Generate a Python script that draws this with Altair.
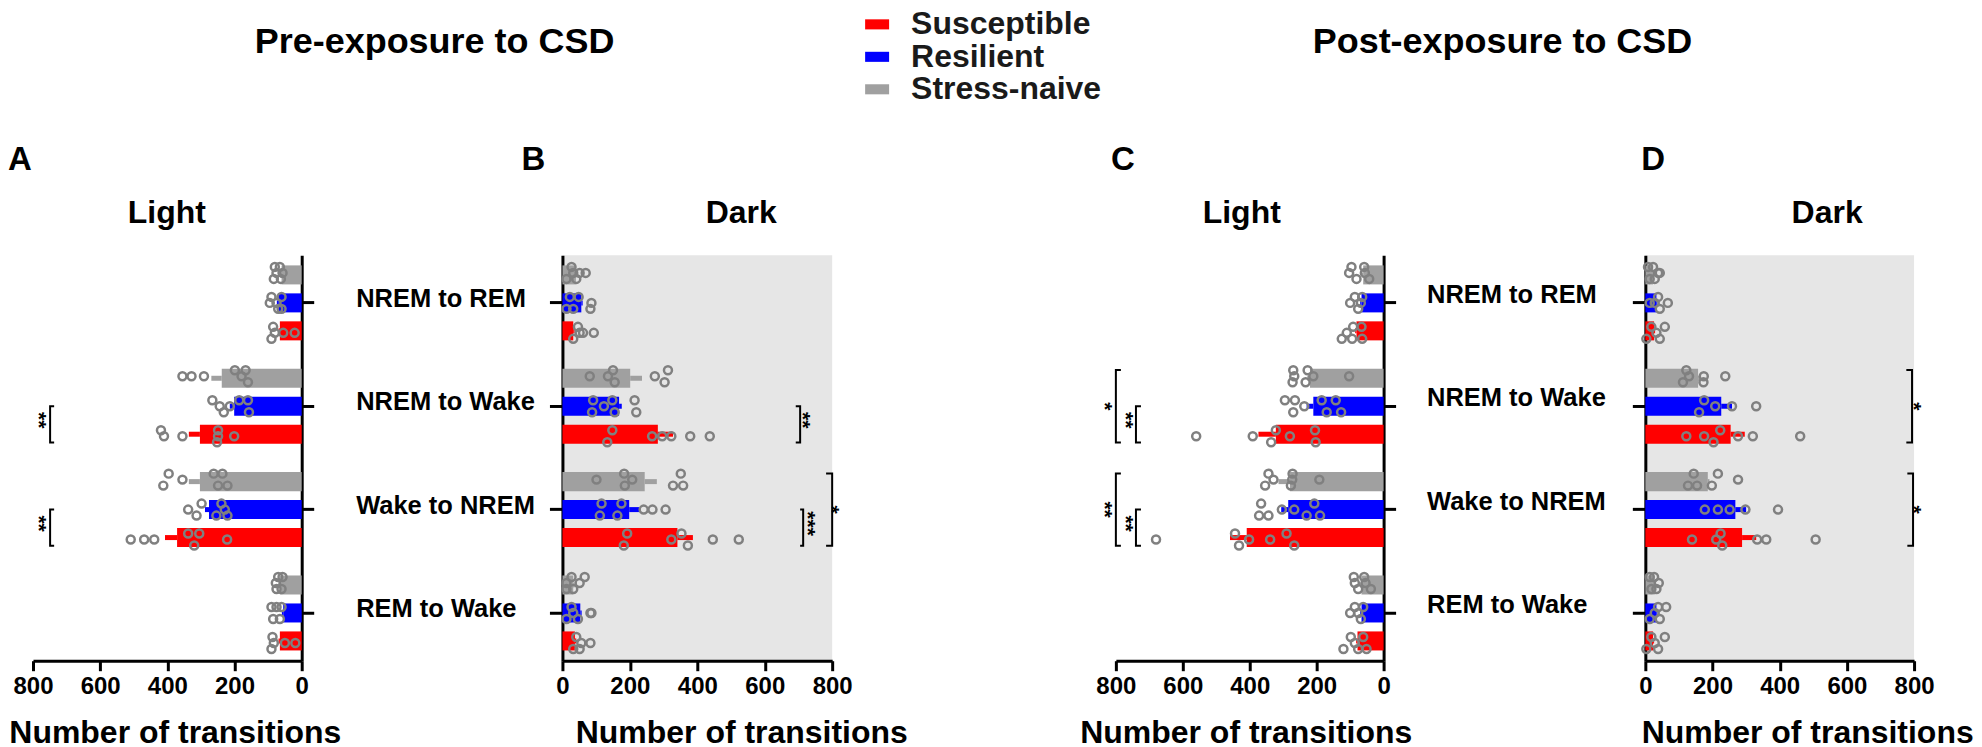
import altair as alt
import pandas as pd

FONT = "Liberation Sans"
CATEGORIES = ["NREM to REM", "NREM to Wake", "Wake to NREM", "REM to Wake"]
GROUPS = ["Stress-naive", "Resilient", "Susceptible"]          # top -> bottom inside a category
LEGEND_ORDER = ["Susceptible", "Resilient", "Stress-naive"]
LEGEND_COLORS = ["#ff0000", "#0000ff", "#a0a0a0"]
GROUP_COLOR = dict(zip(LEGEND_ORDER, LEGEND_COLORS))
X_TICKS = [0, 200, 400, 600, 800]
X_TITLE = "Number of transitions"
LETTERS = ["A", "B", "C", "D"]
PANEL_TITLES = ["Light", "Dark", "Light", "Dark"]
SECTION_TITLES = ["Pre-exposure to CSD", "Post-exposure to CSD"]
JITTER = [-2, -1, 0, 1, 2]

# ---------------- Panel A (pre, light) ----------------
A_MEAN = {"Stress-naive": [60, 238, 303, 65], "Resilient": [70, 201, 276, 55], "Susceptible": [65, 303, 371, 65]}
A_SEM = {"Stress-naive": [4, 31, 33, 4], "Resilient": [4, 13, 12, 4], "Susceptible": [4, 33, 36, 4]}
A_PTS = {
    "Stress-naive": [[(80, -1), (65, -1), (75, 0), (57, 0), (83, 1), (62, 1)],
                     [(355, 0), (328, 0), (291, 0), (199, -1), (167, -1), (160, 1), (179, 0)],
                     [(396, -1), (412, 1), (355, 0), (262, -1), (236, -1), (249, 1), (221, 1)],
                     [(70, -1), (57, -1), (77, 0), (60, 1), (75, 1)]],
    "Resilient": [[(90, -1), (75, 0), (60, -1), (60, 1), (95, 0), (70, 1)],
                  [(266, -1), (244, 0), (232, 1), (214, 0), (186, -1), (160, -1), (157, 1)],
                  [(338, 0), (313, 1), (298, -1), (254, 1), (239, -1), (229, 0), (221, 1)],
                  [(90, -1), (75, -1), (60, -1), (85, 1), (65, 1)]],
    "Susceptible": [[(85, -1), (80, 0), (90, 1), (55, 0), (21, 0)],
                    [(419, -1), (410, 0), (355, 0), (249, -1), (249, 0), (252, 1), (201, 0)],
                    [(509, 0), (469, 0), (439, 0), (338, -1), (305, -1), (320, 1), (222, 0)],
                    [(87, -1), (83, 0), (90, 1), (50, 0), (19, 0)]],
}
# (category, from group, to group, bracket x, tick end x, label, label x)
A_BRACKETS = [("NREM to Wake", "Resilient", "Susceptible", 749, 737, "**", 784),
              ("Wake to NREM", "Resilient", "Susceptible", 749, 737, "**", 784)]

# ---------------- Panel B (pre, dark) ----------------
B_MEAN = {"Stress-naive": [40, 201, 244, 32], "Resilient": [56, 168, 198, 53], "Susceptible": [32, 283, 341, 37]}
B_SEM = {"Stress-naive": [4, 35, 36, 4], "Resilient": [4, 8, 29, 4], "Susceptible": [4, 45, 46, 4]}
B_PTS = {
    "Stress-naive": [[(27, -1), (32, 0), (51, 0), (69, 0), (12, 1), (41, 1)],
                     [(81, 0), (135, 0), (150, -1), (155, 1), (274, 0), (303, 1), (313, -1)],
                     [(101, 0), (183, -1), (185, 1), (207, 0), (328, 1), (351, -1), (358, 1)],
                     [(27, -1), (12, 0), (51, 0), (66, -1), (32, 1), (12, 1)]],
    "Resilient": [[(22, -1), (48, -1), (86, 0), (83, 1), (12, 1), (32, 1)],
                  [(91, -1), (88, 1), (123, 0), (148, -1), (155, 1), (214, -1), (219, 1)],
                  [(116, -1), (111, 1), (175, -1), (163, 1), (241, 0), (267, 0), (306, 0)],
                  [(27, -1), (12, 1), (46, 1), (86, 0), (83, 0), (32, 0)]],
    "Susceptible": [[(46, -1), (51, 0), (61, 0), (93, 0), (32, 1)],
                    [(148, -1), (133, 1), (266, 0), (296, 0), (323, 0), (379, 0), (437, 0)],
                    [(192, -1), (182, 1), (323, 0), (353, -1), (372, 1), (446, 0), (523, 0)],
                    [(41, -1), (56, 0), (83, 0), (32, 1), (51, 1)]],
}
B_BRACKETS = [("NREM to Wake", "Resilient", "Susceptible", 705, 692, "**", 712),
              ("Wake to NREM", "Resilient", "Susceptible", 714, 705, "***", 724),
              ("Wake to NREM", "Stress-naive", "Susceptible", 800, 782, "*", 798)]

# ---------------- Panel C (post, light) ----------------
C_MEAN = {"Stress-naive": [61, 220, 280, 66], "Resilient": [66, 210, 285, 66], "Susceptible": [81, 322, 409, 78]}
C_SEM = {"Stress-naive": [4, 8, 34, 4], "Resilient": [4, 20, 21, 4], "Susceptible": [4, 52, 50, 4]}
C_PTS = {
    "Stress-naive": [[(96, -1), (58, -1), (103, 0), (81, 1), (56, 0), (43, 1)],
                     [(270, -1), (267, 0), (272, 1), (227, -1), (233, 1), (210, 0), (103, 0)],
                     [(344, -1), (329, 0), (354, 1), (272, -1), (277, 1), (273, 0), (192, 0)],
                     [(89, -1), (86, 0), (76, 1), (58, -1), (54, 0), (38, 1)]],
    "Resilient": [[(100, 0), (86, -1), (76, 1), (68, 0), (64, -1)],
                  [(295, -1), (265, -1), (270, 1), (237, 0), (185, -1), (143, -1), (170, 1), (127, 1)],
                  [(366, -1), (372, 1), (344, 1), (304, 0), (267, 0), (230, 1), (207, -1), (190, 1)],
                  [(100, 0), (86, -1), (76, 0), (68, 1), (61, -1)]],
    "Susceptible": [[(125, 1), (110, 0), (91, -1), (94, 1), (64, 1), (66, -1)],
                    [(560, 0), (391, 0), (336, 1), (322, -1), (280, 0), (205, -1), (203, 1)],
                    [(680, 0), (444, -1), (432, 1), (402, 0), (339, 0), (290, -1), (267, 1)],
                    [(120, 1), (98, -1), (86, 0), (76, 1), (61, -1), (51, 1)]],
}
C_BRACKETS = [("NREM to Wake", "Stress-naive", "Susceptible", 800, 785, "*", 835),
              ("NREM to Wake", "Resilient", "Susceptible", 740, 725, "**", 772),
              ("Wake to NREM", "Stress-naive", "Susceptible", 800, 785, "**", 835),
              ("Wake to NREM", "Resilient", "Susceptible", 740, 725, "**", 772)]

# ---------------- Panel D (post, dark) ----------------
D_MEAN = {"Stress-naive": [23, 157, 186, 28], "Resilient": [33, 226, 268, 33], "Susceptible": [26, 254, 288, 23]}
D_SEM = {"Stress-naive": [3, 5, 5, 3], "Resilient": [3, 32, 32, 3], "Susceptible": [3, 42, 42, 3]}
D_PTS = {
    "Stress-naive": [[(8, -1), (23, -1), (38, 0), (43, 0), (13, 1), (28, 1)],
                     [(122, -1), (130, 0), (112, 1), (174, 0), (173, 1), (238, 0)],
                     [(144, -1), (127, 1), (154, 1), (198, 1), (216, -1), (276, 0)],
                     [(13, -1), (26, -1), (40, 0), (18, 1), (33, 1)]],
    "Resilient": [[(13, 0), (38, -1), (67, 0), (43, 1), (28, 0)],
                  [(175, -1), (160, 1), (208, 0), (258, 0), (330, 0)],
                  [(177, 0), (216, 0), (251, 0), (298, 0), (395, 0)],
                  [(13, 1), (38, -1), (62, -1), (43, 1), (28, 0)]],
    "Susceptible": [[(3, 1), (18, -1), (58, -1), (43, 1), (33, 0)],
                    [(122, 0), (175, 0), (203, 1), (223, -1), (276, 0), (320, 0), (461, 0)],
                    [(139, 0), (211, 0), (224, -1), (229, 1), (333, 0), (360, 0), (507, 0)],
                    [(3, 1), (18, -1), (58, -1), (38, 1), (28, 0)]],
}
D_BRACKETS = [("NREM to Wake", "Stress-naive", "Susceptible", 794, 777, "*", 798),
              ("Wake to NREM", "Stress-naive", "Susceptible", 797, 780, "*", 798)]

PANEL_H = 406
GAPS = [261, 284, 262]          # horizontal gaps between the four plot areas
JLEVELS = [f"{g}|{j}" for g in GROUPS for j in JITTER]

LEGEND = alt.Legend(orient="none", legendX=829, legendY=-247, title=None,
                    symbolType="M-1,-0.42H1V0.42H-1Z", symbolSize=576, symbolStrokeWidth=0,
                    symbolOpacity=1, labelFontSize=32, labelFontWeight="bold", labelFont=FONT,
                    labelColor="#1a1a1a", labelOffset=18, rowPadding=0.5, padding=0, labelLimit=500)


def text_layer(txt, px, py, size, align="center"):
    return alt.Chart(pd.DataFrame({"t": [txt]})).mark_text(
        fontSize=size, fontWeight="bold", align=align, baseline="alphabetic", color="black", font=FONT
    ).encode(text="t:N", x=alt.value(px), y=alt.value(py))


def make_panel(mean, sem, pts, brackets, reverse, width, yaxis, axis_title_x, title_x, bg, letter,
               letter_x, panel_title, section=None, with_legend=False):
    bars_df = pd.DataFrame([{"cat": c, "grp": g, "x": mean[g][i], "x2": mean[g][i] + sem[g][i],
                             "col": GROUP_COLOR[g]}
                            for g in GROUPS for i, c in enumerate(CATEGORIES)])
    pts_df = pd.DataFrame([{"cat": c, "jg": f"{g}|{j}", "x": v}
                           for g in GROUPS for i, c in enumerate(CATEGORIES) for (v, j) in pts[g][i]])
    line_rows, mid_rows, low_rows = [], [], []
    for k, (cat, g_from, g_to, x_line, x_tick, lab, x_lab) in enumerate(brackets):
        for s, (xx, gg) in enumerate([(x_tick, g_from), (x_line, g_from), (x_line, g_to), (x_tick, g_to)]):
            line_rows.append({"bid": k, "seq": s, "cat": cat, "grp": gg, "x": xx})
        row = {"cat": cat, "grp": "Resilient", "x": x_lab, "t": lab}
        (mid_rows if g_from == "Stress-naive" else low_rows).append(row)

    xaxis = alt.Axis(values=X_TICKS, title=X_TITLE, titleFontSize=32, titleFontWeight="bold",
                     titleFont=FONT, titleX=axis_title_x, titleY=82, titleBaseline="alphabetic",
                     titleAlign="center", labelFontSize=24, labelFontWeight="bold", labelFont=FONT,
                     labelPadding=4, tickSize=10, tickWidth=3, domainWidth=3, labelFlush=False,
                     labelOverlap=False, grid=False, format="d")
    X = alt.X("x:Q", scale=alt.Scale(domain=[0, 800], reverse=reverse, nice=False, zero=False), axis=xaxis)
    Y = alt.Y("cat:N", scale=alt.Scale(domain=CATEGORIES, paddingInner=0.188, paddingOuter=0.056), axis=yaxis)
    YOFF = alt.YOffset("grp:N", scale=alt.Scale(domain=GROUPS, paddingInner=0.32, paddingOuter=0.16))
    YOFF_P = alt.YOffset("jg:N", scale=alt.Scale(domain=JLEVELS, paddingInner=0, paddingOuter=0))

    if with_legend:
        color = alt.Color("grp:N", scale=alt.Scale(domain=LEGEND_ORDER, range=LEGEND_COLORS), legend=LEGEND)
    else:
        color = alt.Color("col:N", scale=None)

    bars = alt.Chart(bars_df).mark_bar(opacity=1).encode(x=X, y=Y, yOffset=YOFF, color=color)
    rules = alt.Chart(bars_df).mark_rule(strokeWidth=5).encode(
        x=X, x2="x2:Q", y=Y, yOffset=YOFF, color=alt.Color("col:N", scale=None))
    points = alt.Chart(pts_df).mark_point(shape="circle", filled=False, stroke="#808080",
                                          strokeWidth=2.5, size=64, opacity=1).encode(
        x=X, y=Y, yOffset=YOFF_P)
    layers = [bars, rules, points]
    if line_rows:
        layers.append(alt.Chart(pd.DataFrame(line_rows)).mark_line(color="black", strokeWidth=2).encode(
            x=X, y=Y, yOffset=YOFF, detail="bid:N", order="seq:Q"))
    if mid_rows:
        layers.append(alt.Chart(pd.DataFrame(mid_rows)).mark_text(
            angle=90, fontSize=21, fontWeight="bold", align="center", baseline="middle", color="black",
            font=FONT).encode(x=X, y=Y, yOffset=YOFF, text="t:N"))
    if low_rows:
        # dx runs along the rotated text, i.e. downwards on screen
        layers.append(alt.Chart(pd.DataFrame(low_rows)).mark_text(
            angle=90, fontSize=21, fontWeight="bold", align="center", baseline="middle", color="black",
            font=FONT, dx=14).encode(x=X, y=Y, yOffset=YOFF, text="t:N"))
    layers.append(text_layer(letter, letter_x, -85, 33, align="left"))
    layers.append(text_layer(panel_title, title_x, -32, 32))
    if section is not None:
        layers.append(text_layer(section[0], section[1], -202, 36))
    return alt.layer(*layers).resolve_scale(yOffset="independent").properties(
        width=width, height=PANEL_H, view=alt.ViewBackground(fill=bg, stroke=None))


def spacer(w):
    return alt.Chart(pd.DataFrame({"s": [0]})).mark_point(opacity=0, size=1).encode(
        x=alt.value(0), y=alt.value(0)).properties(width=w, height=PANEL_H)


def yaxis_right():
    return alt.Axis(orient="right", labels=False, title=None, tickSize=12, tickWidth=3, domainWidth=3,
                    grid=False)


def yaxis_left(pad, offset):
    return alt.Axis(orient="left", title=None, labelAlign="left", labelBaseline="middle", labelPadding=pad,
                    labelOffset=offset, labelFontSize=25.5, labelFontWeight="bold", labelFont=FONT,
                    labelLimit=500, tickSize=13, tickWidth=3, domainWidth=3, grid=False)


pA = make_panel(A_MEAN, A_SEM, A_PTS, A_BRACKETS, True, 269, yaxis_right(), 142, 134, "white",
                LETTERS[0], -25, PANEL_TITLES[0], section=(SECTION_TITLES[0], 402), with_legend=True)
pB = make_panel(B_MEAN, B_SEM, B_PTS, B_BRACKETS, False, 270, yaxis_left(194, -4), 179, 179, "#e6e6e6",
                LETTERS[1], -41, PANEL_TITLES[1])
pC = make_panel(C_MEAN, C_SEM, C_PTS, C_BRACKETS, True, 268, yaxis_right(), 130, 126, "white",
                LETTERS[2], -5, PANEL_TITLES[2], section=(SECTION_TITLES[1], 387))
pD = make_panel(D_MEAN, D_SEM, D_PTS, D_BRACKETS, False, 269, yaxis_left(206, -8), 162, 182, "#e6e6e6",
                LETTERS[3], -4, PANEL_TITLES[3])

chart = alt.hconcat(pA, spacer(GAPS[0]), pB, spacer(GAPS[1]), pC, spacer(GAPS[2]), pD,
                    spacing=0, bounds="flush").properties(
    padding=0, background="white"
).configure(font=FONT).configure_view(stroke=None).configure_axis(
    domainColor="black", tickColor="black", labelColor="black", titleColor="black"
)

chart.save("out.html", embed_options={"renderer": "svg", "actions": False})
